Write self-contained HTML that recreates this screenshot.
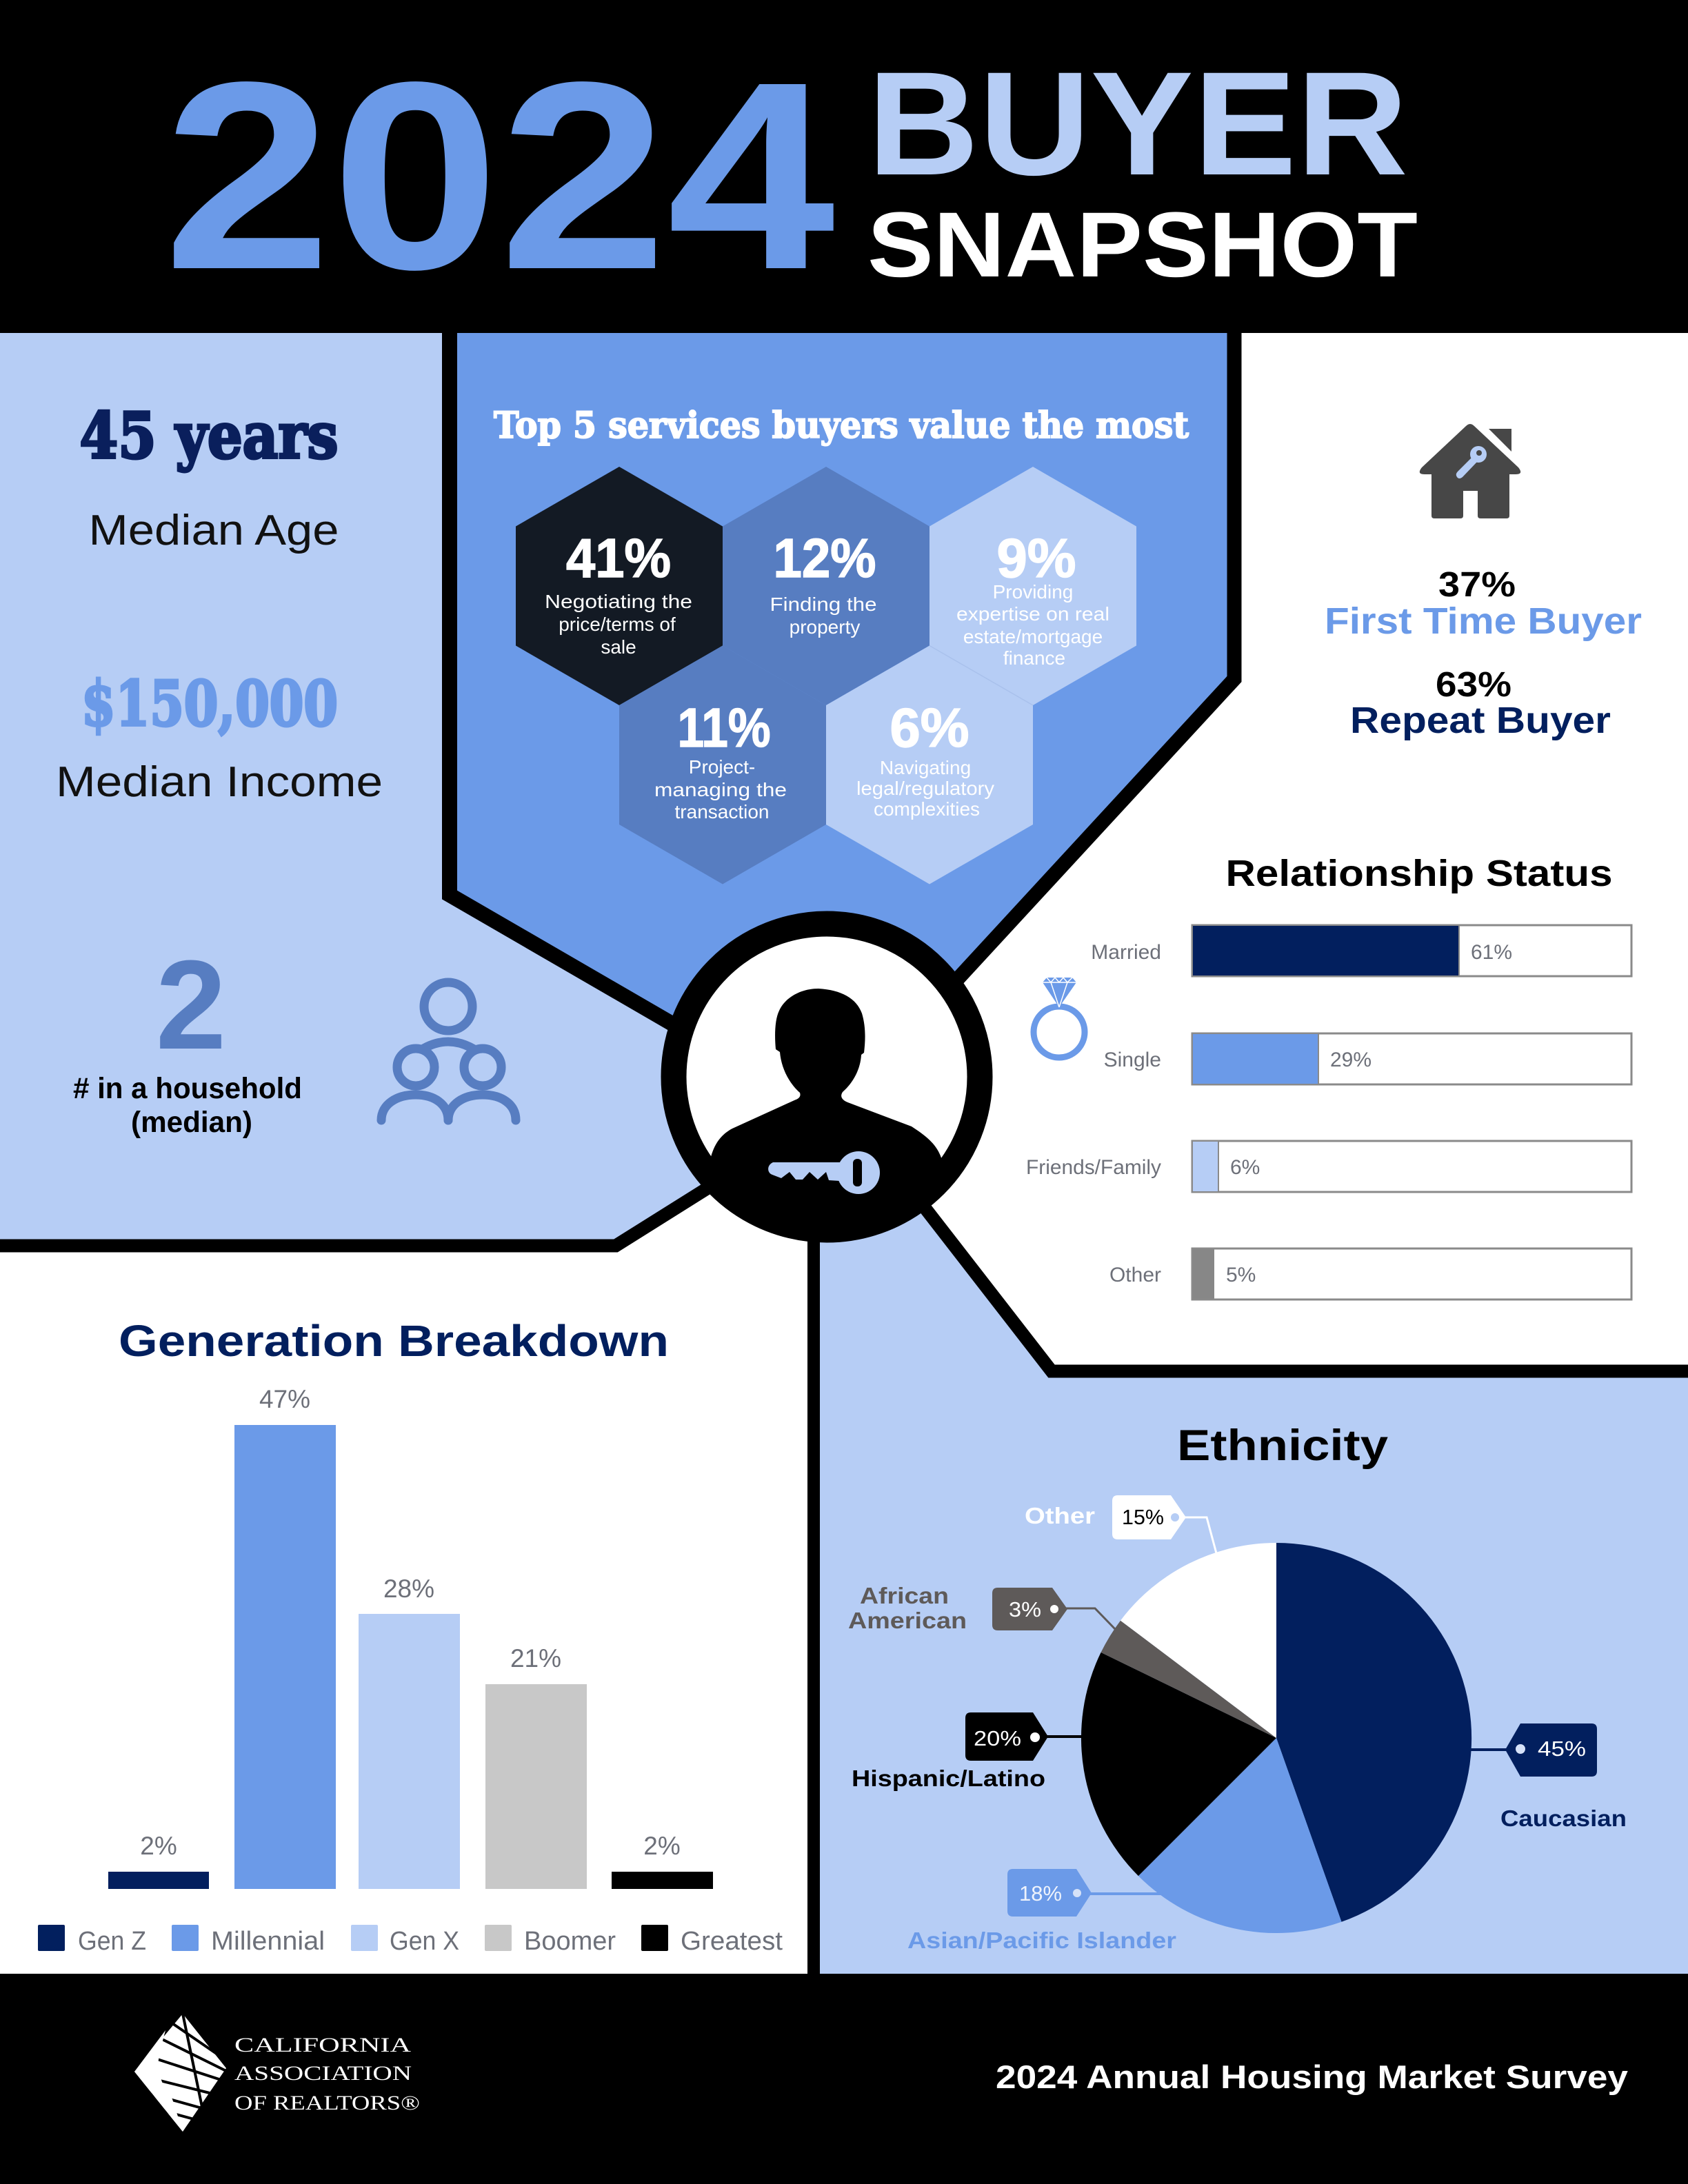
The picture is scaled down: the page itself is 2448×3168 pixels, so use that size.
<!DOCTYPE html>
<html><head><meta charset="utf-8">
<style>
html,body{margin:0;padding:0;background:#000;}
svg{display:block;}
</style></head>
<body>
<svg width="2448" height="3168" viewBox="0 0 2448 3168" xmlns="http://www.w3.org/2000/svg">
<defs>
<clipPath id="cc"><circle cx="1199" cy="1562" r="205"/></clipPath>
</defs>
<rect width="2448" height="3168" fill="#000"/>

<!-- HEADER -->
<text x="237" y="389" font-family="Liberation Sans, sans-serif" font-weight="bold" font-size="388" fill="#6b9ae8" textLength="974" lengthAdjust="spacingAndGlyphs">2024</text>
<text x="1258" y="253" font-family="Liberation Sans, sans-serif" font-weight="bold" font-size="214" fill="#b6cdf5" textLength="784" lengthAdjust="spacingAndGlyphs">BUYER</text>
<text x="1258" y="401" font-family="Liberation Sans, sans-serif" font-weight="bold" font-size="134" fill="#fff" textLength="798" lengthAdjust="spacingAndGlyphs">SNAPSHOT</text>

<!-- REGIONS -->
<polygon points="0,483 652,483 652,1298 1199,1615 893,1807 0,1807" fill="#b6cdf5"/>
<polygon points="652,483 1790,483 1790,985 1258,1562 1199,1615 652,1298" fill="#6b9ae8"/>
<polygon points="1790,483 2448,483 2448,1989 1525,1989 1194,1562 1258,1562 1790,985" fill="#fff"/>
<polygon points="1525,1989 2448,1989 2448,2863 1180,2863 1180,1562 1194,1562" fill="#b6cdf5"/>
<polygon points="0,1807 893,1807 1199,1615 1180,1600 1180,2863 0,2863" fill="#fff"/>

<!-- BLACK DIVIDERS -->
<g stroke="#000" fill="none" stroke-linejoin="miter">
<polyline points="652,478 652,1298 1199,1615" stroke-width="22"/>
<polyline points="1790,478 1790,985 1258,1562" stroke-width="21"/>
<polyline points="-10,1807 893,1807 1199,1615" stroke-width="19"/>
<line x1="1180" y1="1562" x2="1180" y2="2870" stroke-width="18"/>
<polyline points="1194,1562 1525,1989 2460,1989" stroke-width="19"/>
</g>

<!-- LEFT PANEL -->
<text x="303" y="664" text-anchor="middle" font-family="DejaVu Serif, serif" font-weight="bold" font-size="92" fill="#0a1f5c" stroke="#0a1f5c" stroke-width="4" textLength="375" lengthAdjust="spacingAndGlyphs">45 years</text>
<text x="310" y="790" text-anchor="middle" font-family="Liberation Sans, sans-serif" font-size="62" fill="#111" textLength="363" lengthAdjust="spacingAndGlyphs">Median Age</text>
<text x="304" y="1052" text-anchor="middle" font-family="DejaVu Serif, serif" font-weight="bold" font-size="90" fill="#6b9ae8" stroke="#6b9ae8" stroke-width="4" textLength="372" lengthAdjust="spacingAndGlyphs">$150,000</text>
<text x="318" y="1155" text-anchor="middle" font-family="Liberation Sans, sans-serif" font-size="62" fill="#111" textLength="474" lengthAdjust="spacingAndGlyphs">Median Income</text>
<text x="277" y="1521" text-anchor="middle" font-family="Liberation Sans, sans-serif" font-weight="bold" font-size="184" fill="#577dc1">2</text>
<text x="272" y="1593" text-anchor="middle" font-family="Liberation Sans, sans-serif" font-weight="bold" font-size="43" fill="#000" textLength="332" lengthAdjust="spacingAndGlyphs"># in a household</text>
<text x="278" y="1642" text-anchor="middle" font-family="Liberation Sans, sans-serif" font-weight="bold" font-size="43" fill="#000" textLength="176" lengthAdjust="spacingAndGlyphs">(median)</text>
<!-- people icon -->
<g stroke="#577dc1" stroke-width="13" fill="none" stroke-linecap="round">
<path d="M598,1532 Q650,1490 702,1532"/>
<circle cx="650" cy="1460" r="35"/>
<circle cx="603" cy="1548" r="27" fill="#b6cdf5"/>
<circle cx="700" cy="1548" r="27" fill="#b6cdf5"/>
<path d="M553,1625 C553,1602 575,1588 603,1588 C630,1588 650,1602 650,1625"/>
<path d="M650,1625 C650,1602 672,1588 700,1588 C728,1588 748,1602 748,1625"/>
</g>

<!-- TOP 5 SERVICES -->
<text x="1220" y="635" text-anchor="middle" font-family="DejaVu Serif, serif" font-weight="bold" font-size="52" fill="#fff" stroke="#fff" stroke-width="2" textLength="1008" lengthAdjust="spacingAndGlyphs">Top 5 services buyers value the most</text>
<polygon points="898,677 1048,763.5 1048,936.5 898,1023 748,936.5 748,763.5" fill="#131a24"/>
<polygon points="1198,677 1348,763.5 1348,936.5 1198,1023 1048,936.5 1048,763.5" fill="#577dc1"/>
<polygon points="1498,677 1648,763.5 1648,936.5 1498,1023 1348,936.5 1348,763.5" fill="#b6cdf5"/>
<polygon points="1048,936.5 1198,1023 1198,1196 1048,1282.5 898,1196 898,1023" fill="#577dc1"/>
<polygon points="1348,936.5 1498,1023 1498,1196 1348,1282.5 1198,1196 1198,1023" fill="#b6cdf5"/>
<line x1="1348" y1="936.5" x2="1498" y2="1023" stroke="#a9c1ec" stroke-width="1.5"/>
<g font-family="Liberation Sans, sans-serif" fill="#fff" text-anchor="middle">
<g font-weight="bold" font-size="80" stroke="#fff" stroke-width="1.5">
<text x="897" y="837" textLength="152" lengthAdjust="spacingAndGlyphs">41%</text>
<text x="1196" y="837" textLength="149" lengthAdjust="spacingAndGlyphs">12%</text>
<text x="1503" y="837" textLength="115" lengthAdjust="spacingAndGlyphs">9%</text>
<text x="1050" y="1083" textLength="135" lengthAdjust="spacingAndGlyphs">11%</text>
<text x="1348" y="1083" textLength="115" lengthAdjust="spacingAndGlyphs">6%</text>
</g>
<g font-size="28">
<text x="897" y="882" textLength="214" lengthAdjust="spacingAndGlyphs">Negotiating the</text>
<text x="895" y="915">price/terms of</text>
<text x="897" y="948">sale</text>
<text x="1194" y="886" textLength="155" lengthAdjust="spacingAndGlyphs">Finding the</text>
<text x="1196" y="919">property</text>
<text x="1498" y="868">Providing</text>
<text x="1498" y="900" textLength="222" lengthAdjust="spacingAndGlyphs">expertise on real</text>
<text x="1498" y="933">estate/mortgage</text>
<text x="1500" y="964">finance</text>
<text x="1047" y="1122">Project-</text>
<text x="1045" y="1155" textLength="192" lengthAdjust="spacingAndGlyphs">managing the</text>
<text x="1047" y="1187">transaction</text>
<text x="1342" y="1123">Navigating</text>
<text x="1342" y="1153" textLength="200" lengthAdjust="spacingAndGlyphs">legal/regulatory</text>
<text x="1344" y="1183">complexities</text>
</g>
</g>

<!-- RIGHT WHITE PANEL -->
<path d="M2126,618 Q2132,612 2138,618 L2202,678 Q2210,688 2198,688 L2189,688 L2189,748 Q2189,752 2185,752 L2147,752 Q2143,752 2143,748 L2143,712 L2122,712 L2122,748 Q2122,752 2118,752 L2080,752 Q2076,752 2076,748 L2076,688 L2066,688 Q2054,688 2062,678 Z" fill="#474747"/>
<polygon points="2159,622 2192,622 2192,655" fill="#474747"/>
<g fill="#b6cdf5">
<circle cx="2144" cy="659" r="12"/>
<path d="M2136,662 L2143,669 L2121,692 Q2116,696 2113,692 Q2110,688 2114,684 Z"/>
<rect x="2118" y="684" width="5" height="6" transform="rotate(45 2120 687)"/>
</g>
<circle cx="2145" cy="657" r="4" fill="#474747"/>
<g font-family="Liberation Sans, sans-serif" font-weight="bold" text-anchor="middle">
<text x="2142" y="865" font-size="51" fill="#000" textLength="112" lengthAdjust="spacingAndGlyphs">37%</text>
<text x="2151" y="919" font-size="54" fill="#6b9ae8" textLength="460" lengthAdjust="spacingAndGlyphs">First Time Buyer</text>
<text x="2137" y="1010" font-size="51" fill="#000" textLength="110" lengthAdjust="spacingAndGlyphs">63%</text>
<text x="2147" y="1063" font-size="54" fill="#021f5e" textLength="378" lengthAdjust="spacingAndGlyphs">Repeat Buyer</text>
<text x="2058" y="1285" font-size="54" fill="#000" textLength="561" lengthAdjust="spacingAndGlyphs">Relationship Status</text>
</g>

<!-- Relationship bars -->
<g stroke="#8a8a8a" stroke-width="3">
<rect x="1729" y="1342" width="637" height="74" fill="#fff"/>
<rect x="1729" y="1499" width="637" height="74" fill="#fff"/>
<rect x="1729" y="1655" width="637" height="74" fill="#fff"/>
<rect x="1729" y="1811" width="637" height="74" fill="#fff"/>
</g>
<rect x="1730" y="1343" width="386" height="72" fill="#021f5e"/>
<rect x="1730" y="1500" width="182" height="72" fill="#6b9ae8"/>
<rect x="1730" y="1656" width="37" height="72" fill="#b6cdf5"/>
<rect x="1730" y="1812" width="31" height="72" fill="#878787"/>
<line x1="2116" y1="1342" x2="2116" y2="1416" stroke="#8a8a8a" stroke-width="2"/>
<line x1="1912" y1="1499" x2="1912" y2="1573" stroke="#8a8a8a" stroke-width="2"/>
<line x1="1767" y1="1655" x2="1767" y2="1729" stroke="#8a8a8a" stroke-width="2"/>
<g font-family="Liberation Sans, sans-serif" font-size="30" fill="#6d7079">
<text x="1684" y="1391" text-anchor="end">Married</text>
<text x="1684" y="1547" text-anchor="end">Single</text>
<text x="1684" y="1703" text-anchor="end" textLength="196" lengthAdjust="spacingAndGlyphs">Friends/Family</text>
<text x="1684" y="1859" text-anchor="end">Other</text>
<text x="2133" y="1391">61%</text>
<text x="1929" y="1547">29%</text>
<text x="1784" y="1703">6%</text>
<text x="1778" y="1859">5%</text>
</g>
<!-- ring icon -->
<circle cx="1536" cy="1497" r="37" fill="none" stroke="#6b9ae8" stroke-width="9"/>
<polygon points="1512,1425 1518,1418 1555,1418 1561,1425 1536,1461" fill="#6b9ae8"/>
<g stroke="#fff" stroke-width="1.5" fill="none">
<line x1="1512" y1="1425" x2="1561" y2="1425"/>
<polyline points="1518,1418 1524,1425 1530,1418 1536,1425 1542,1418 1548,1425 1555,1418"/>
<line x1="1524" y1="1425" x2="1536" y2="1461"/>
<line x1="1548" y1="1425" x2="1536" y2="1461"/>
</g>

<!-- CENTER CIRCLE -->
<circle cx="1199" cy="1562" r="222" fill="#fff" stroke="#000" stroke-width="37"/>
<g clip-path="url(#cc)">
<path d="M1187,1434 C1160,1434 1138,1448 1130,1466 C1124,1478 1123,1500 1125,1522 L1131,1526 C1133,1550 1145,1572 1160,1585 C1162,1591 1158,1594 1152,1596 L1062,1637 C1045,1646 1036,1660 1031,1678 L1020,1830 L1380,1830 L1366,1682 C1360,1664 1350,1652 1322,1634 L1232,1600 C1220,1596 1218,1590 1222,1584 C1238,1570 1248,1550 1249,1530 L1253,1527 C1255,1510 1256,1490 1250,1470 C1242,1448 1220,1436 1187,1434 Z" fill="#000"/>
</g>
<path d="M1121,1686 L1218,1686 L1218,1713 L1202,1712 L1198,1700 L1186,1711 L1174,1700 L1164,1711 L1154,1711 L1145,1700 L1133,1709 L1120,1704 C1112,1701 1112,1690 1121,1686 Z" fill="#b6cdf5"/>
<circle cx="1245" cy="1701" r="31" fill="#b6cdf5"/>
<rect x="1237" y="1681" width="13" height="40" rx="6" fill="#000"/>

<!-- GENERATION BREAKDOWN -->
<text x="571" y="1967" text-anchor="middle" font-family="Liberation Sans, sans-serif" font-weight="bold" font-size="64" fill="#021f5e" textLength="798" lengthAdjust="spacingAndGlyphs">Generation Breakdown</text>
<rect x="157" y="2715" width="146" height="25" fill="#021f5e"/>
<rect x="340" y="2067" width="147" height="673" fill="#6b9ae8"/>
<rect x="520" y="2341" width="147" height="399" fill="#b6cdf5"/>
<rect x="704" y="2443" width="147" height="297" fill="#c8c8c8"/>
<rect x="887" y="2715" width="147" height="25" fill="#000"/>
<g font-family="Liberation Sans, sans-serif" font-size="37" fill="#6d7079" text-anchor="middle">
<text x="230" y="2690">2%</text>
<text x="413" y="2042">47%</text>
<text x="593" y="2317">28%</text>
<text x="777" y="2418">21%</text>
<text x="960" y="2690">2%</text>
</g>
<rect x="55" y="2792" width="39" height="38" rx="2" fill="#021f5e"/>
<rect x="249" y="2792" width="39" height="38" rx="2" fill="#6b9ae8"/>
<rect x="509" y="2792" width="39" height="38" rx="2" fill="#b6cdf5"/>
<rect x="703" y="2792" width="39" height="38" rx="2" fill="#c8c8c8"/>
<rect x="930" y="2792" width="39" height="38" rx="2" fill="#000"/>
<g font-family="Liberation Sans, sans-serif" font-size="38" fill="#6d7079">
<text x="113" y="2828" textLength="99" lengthAdjust="spacingAndGlyphs">Gen Z</text>
<text x="306" y="2828" textLength="165" lengthAdjust="spacingAndGlyphs">Millennial</text>
<text x="565" y="2828" textLength="101" lengthAdjust="spacingAndGlyphs">Gen X</text>
<text x="760" y="2828" textLength="133" lengthAdjust="spacingAndGlyphs">Boomer</text>
<text x="987" y="2828" textLength="148" lengthAdjust="spacingAndGlyphs">Greatest</text>
</g>

<!-- ETHNICITY -->
<text x="1860" y="2118" text-anchor="middle" font-family="Liberation Sans, sans-serif" font-weight="bold" font-size="63" fill="#000" textLength="306" lengthAdjust="spacingAndGlyphs">Ethnicity</text>
<path d="M1851,2521 L1851,2238 A283,283 0 0 1 1945.5,2787.8 Z" fill="#021f5e"/>
<path d="M1851,2521 L1945.5,2787.8 A283,283 0 0 1 1650.9,2721.1 Z" fill="#6b9ae8"/>
<path d="M1851,2521 L1650.9,2721.1 A283,283 0 0 1 1596.6,2396.9 Z" fill="#000"/>
<path d="M1851,2521 L1596.6,2396.9 A283,283 0 0 1 1625.0,2350.7 Z" fill="#5e5a59"/>
<path d="M1851,2521 L1625.0,2350.7 A283,283 0 0 1 1851,2238 Z" fill="#fff"/>

<!-- leaders -->
<g fill="none" stroke-width="4">
<line x1="2130" y1="2538" x2="2185" y2="2538" stroke="#021f5e"/>
<line x1="1518" y1="2519" x2="1572" y2="2519" stroke="#000"/>
<line x1="1581" y1="2747" x2="1688" y2="2747" stroke="#6b9ae8"/>
<polyline points="1546,2333 1588,2333 1618,2364" stroke="#5e5a59" stroke-width="3"/>
<polyline points="1718,2201 1750,2201 1764,2253" stroke="#fff" stroke-width="3"/>
</g>
<!-- tags -->
<path d="M1621,2169 L1698,2169 L1720,2201 L1698,2233 L1621,2233 Q1613,2233 1613,2225 L1613,2177 Q1613,2169 1621,2169 Z" fill="#fff"/>
<circle cx="1704" cy="2201" r="6" fill="#b6cdf5"/>
<path d="M1447,2303 L1526,2303 L1548,2334 L1526,2365 L1447,2365 Q1439,2365 1439,2357 L1439,2311 Q1439,2303 1447,2303 Z" fill="#5e5a59"/>
<circle cx="1529" cy="2334" r="6" fill="#fff"/>
<path d="M1408,2484 L1498,2484 L1520,2519 L1498,2554 L1408,2554 Q1400,2554 1400,2546 L1400,2492 Q1400,2484 1408,2484 Z" fill="#000"/>
<circle cx="1501" cy="2520" r="7" fill="#fff"/>
<path d="M1469,2711 L1561,2711 L1583,2746 L1561,2780 L1469,2780 Q1461,2780 1461,2772 L1461,2719 Q1461,2711 1469,2711 Z" fill="#6b9ae8"/>
<circle cx="1562" cy="2746" r="6" fill="#d6e2f8"/>
<path d="M2183,2538 L2205,2500 L2308,2500 Q2316,2500 2316,2508 L2316,2569 Q2316,2577 2308,2577 L2205,2577 Z" fill="#021f5e"/>
<circle cx="2205" cy="2537" r="7" fill="#d6e2f8"/>
<g font-family="Liberation Sans, sans-serif" font-size="31">
<text x="1627" y="2211" fill="#000" textLength="61" lengthAdjust="spacingAndGlyphs">15%</text>
<text x="1463" y="2345" fill="#fff" textLength="47" lengthAdjust="spacingAndGlyphs">3%</text>
<text x="1412" y="2532" fill="#fff" textLength="69" lengthAdjust="spacingAndGlyphs">20%</text>
<text x="1478" y="2757" fill="#eef3fc" textLength="62" lengthAdjust="spacingAndGlyphs">18%</text>
<text x="2230" y="2547" fill="#fff" textLength="70" lengthAdjust="spacingAndGlyphs">45%</text>
</g>
<g font-family="Liberation Sans, sans-serif" font-weight="bold" font-size="33">
<text x="1486" y="2210" fill="#fff" textLength="102" lengthAdjust="spacingAndGlyphs">Other</text>
<text x="1247" y="2326" fill="#5e5a59" textLength="129" lengthAdjust="spacingAndGlyphs">African</text>
<text x="1230" y="2362" fill="#5e5a59" textLength="172" lengthAdjust="spacingAndGlyphs">American</text>
<text x="1235" y="2591" fill="#000" textLength="281" lengthAdjust="spacingAndGlyphs">Hispanic/Latino</text>
<text x="1316" y="2826" fill="#6b9ae8" textLength="390" lengthAdjust="spacingAndGlyphs">Asian/Pacific Islander</text>
<text x="2176" y="2649" fill="#021f5e" textLength="183" lengthAdjust="spacingAndGlyphs">Caucasian</text>
</g>

<!-- FOOTER -->
<rect x="0" y="2863" width="2448" height="305" fill="#000"/>
<polygon points="265,2921 328,3000 265,3092 195,3005" fill="#fff"/>
<g stroke="#000" stroke-width="4">
<line x1="265" y1="2921" x2="300" y2="3090"/>
<line x1="250" y1="2935" x2="330" y2="2990"/>
<line x1="235" y1="2958" x2="330" y2="3005"/>
<line x1="222" y1="2985" x2="330" y2="3020"/>
<line x1="200" y1="3010" x2="320" y2="3040"/>
<line x1="210" y1="3035" x2="300" y2="3060"/>
<line x1="230" y1="3060" x2="285" y2="3075"/>
</g>
<path d="M240,2945 L232,2975 L228,3000 L235,3020 L250,3045 L258,3070 L265,3092 L195,3005 Z" fill="#fff"/>
<g font-family="Liberation Serif, serif" font-size="30" fill="#fff">
<text x="340" y="2976" textLength="256" lengthAdjust="spacingAndGlyphs">CALIFORNIA</text>
<text x="340" y="3017" textLength="257" lengthAdjust="spacingAndGlyphs">ASSOCIATION</text>
<text x="340" y="3060" textLength="269" lengthAdjust="spacingAndGlyphs">OF REALTORS®</text>
</g>
<text x="1444" y="3029" font-family="Liberation Sans, sans-serif" font-weight="bold" font-size="47" fill="#fff" textLength="917" lengthAdjust="spacingAndGlyphs">2024 Annual Housing Market Survey</text>
</svg>
</body></html>
